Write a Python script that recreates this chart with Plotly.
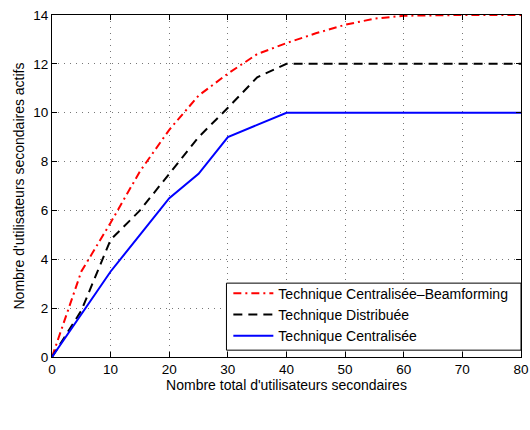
import plotly.graph_objects as go

# Data
x_vals = [0, 5, 10, 15, 20, 25, 30, 35, 40, 45, 50, 55, 60, 65, 70, 75, 80]
beamforming = [0, 3.5, 5.5, 7.6, 9.3, 10.7, 11.6, 12.4, 12.85, 13.25, 13.6, 13.85, 13.97, 14, 14, 14, 14]
distribuee = [0, 1.9, 4.8, 6.0, 7.5, 9.0, 10.2, 11.45, 12, 12, 12, 12, 12, 12, 12, 12, 12]
centralisee = [0, 1.75, 3.5, 5.0, 6.5, 7.5, 9.0, 9.5, 10, 10, 10, 10, 10, 10, 10, 10, 10]

x_ticks = [0, 10, 20, 30, 40, 50, 60, 70, 80]
y_ticks = [0, 2, 4, 6, 8, 10, 12, 14]

FONT = "Liberation Sans, Arial, sans-serif"

fig = go.Figure()

fig.add_trace(go.Scatter(
    x=x_vals, y=beamforming, mode="lines",
    name="Technique Centralisée–Beamforming",
    line=dict(color="#FF0000", width=2, dash="8px,4px,2px,4px")
))
fig.add_trace(go.Scatter(
    x=x_vals, y=distribuee, mode="lines",
    name="Technique Distribuée",
    line=dict(color="#000000", width=2, dash="9px,6px")
))
fig.add_trace(go.Scatter(
    x=x_vals, y=centralisee, mode="lines",
    name="Technique Centralisée",
    line=dict(color="#0000FF", width=2)
))

axis_common = dict(
    showline=True, linecolor="black", linewidth=1, mirror="ticks",
    ticks="inside", ticklen=5, tickcolor="black",
    showgrid=True, gridcolor="#777777", griddash="1px,5px", gridwidth=1,
    zeroline=False, automargin=False, ticklabeloverflow="allow",
    tickfont=dict(family=FONT, size=13.5, color="black"),
)

# legend frame drawn as a shape so its size matches the original box
fig.add_shape(
    type="rect", xref="paper", yref="paper",
    x0=0.372, x1=1.0, y0=0.02, y1=0.216,
    fillcolor="white", line=dict(color="black", width=1), layer="above",
)

fig.update_layout(
    width=530, height=430,
    paper_bgcolor="white", plot_bgcolor="white",
    margin=dict(l=52, r=9, t=15, b=73),
    font=dict(family=FONT, size=12, color="black"),
    xaxis=dict(
        range=[0, 80], tickvals=x_ticks,
        title=dict(text="Nombre total d'utilisateurs secondaires", font=dict(size=14), standoff=3),
        **axis_common
    ),
    yaxis=dict(
        range=[0, 14], tickvals=y_ticks,
        title=dict(text="Nombre d'utilisateurs secondaires actifs", font=dict(size=14), standoff=5),
        **axis_common
    ),
    legend=dict(
        x=0.376, xanchor="left", y=0.232, yanchor="top",
        bgcolor="rgba(0,0,0,0)", borderwidth=0,
        font=dict(family=FONT, size=14, color="black"),
        tracegroupgap=0, itemwidth=40,
    ),
    showlegend=True,
)

# drop the default body margin so the figure fills the window exactly
fig.write_html(
    "out.html",
    config={"displayModeBar": False},
    post_script="document.body.style.margin='0';",
)
